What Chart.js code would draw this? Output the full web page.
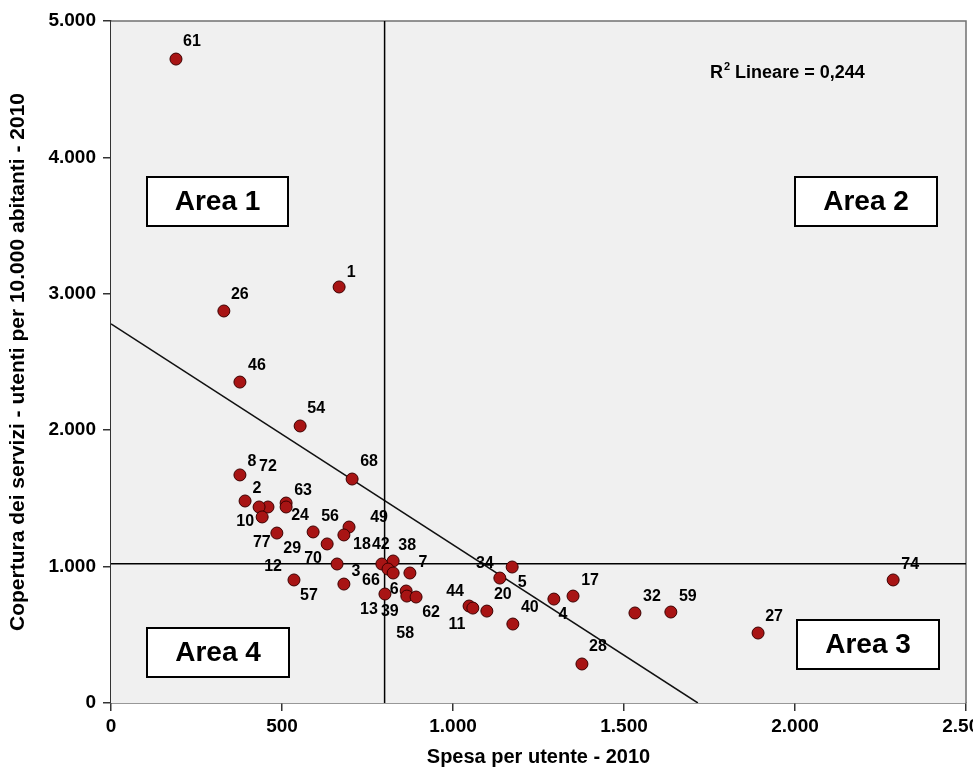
<!DOCTYPE html>
<html>
<head>
<meta charset="utf-8">
<script src="https://cdn.jsdelivr.net/npm/chart.js@4.4.1/dist/chart.umd.min.js"></script>
<style>
  html, body { margin: 0; padding: 0; background: #fff; }
  #wrap { width: 973px; height: 780px; }
</style>
</head>
<body>
<div id="wrap"><canvas id="chart" width="973" height="780"></canvas></div>
<script>
// Dati (numero di zona, spesa, copertura)
const ids = ['61','26','1','46','54','8','68','2','72','12','10','63','24','77','56','49','18','29','70','57','3','42','38','66','58','7','13','6','39','62','44','11','20','34','5','40','4','17','28','32','59','27','74'];
const spesa = [190, 330, 667, 377, 553, 377, 705, 392, 459, 433, 442, 512, 512, 485, 591, 696, 681, 632, 661, 535, 681, 792, 825, 810, 825, 874, 801, 863, 865, 892, 1047, 1058, 1099, 1137, 1173, 1175, 1295, 1351, 1377, 1532, 1637, 1892, 2287];
const copertura = [4721, 2874, 3050, 2353, 2031, 1672, 1642, 1481, 1437, 1437, 1364, 1466, 1437, 1246, 1254, 1290, 1232, 1166, 1019, 902, 872, 1019, 1041, 982, 953, 953, 799, 821, 784, 777, 711, 696, 674, 916, 997, 579, 762, 784, 286, 660, 667, 513, 902];

// spostamento delle etichette rispetto al punto (pixel)
const labelDx = [16, 16, 12, 17, 16, 12, 17, 12, 0, 14, -17, 17, 14, -15, 17, 30, 18, -35, -24, 15, 12, -1, 14, -17, 12, 13, -16, -12, -17, 15, -14, -16, 16, -15, 10, 17, 9, 17, 16, 17, 17, 16, 17];
const labelDy = [-17, -16, -14, -16, -17, -13, -17, -12, -40, 60, 5, -12, 9, 10, -15, -9, 10, 5, -5, 16, -12, -19, -15, 12, 61, -10, 16, -1, 16, 16, -14, 17, -16, -14, 16, -16, 16, -15, -17, -16, -15, -16, -15];

// linee di riferimento e retta di regressione
const refSpesa = 800;
const refCopertura = 1020;
const regSpesa = [0, 1716];
const regCopertura = [2780, 0];
const r2Text = 'R² Lineare = 0,244';

const xTicks = [0, 500, 1000, 1500, 2000, 2500];
const yTicks = [0, 1000, 2000, 3000, 4000, 5000];

const FONT = "'Liberation Sans', Arial, sans-serif";

// riquadri "Area" (posizione relativa all'area del grafico)
const areaBoxes = [
  { text: 'Area 1', left: 36, top: 156, w: 141, h: 49 },
  { text: 'Area 2', left: 684, top: 156, w: 142, h: 49 },
  { text: 'Area 3', left: 686, top: 599, w: 142, h: 49 },
  { text: 'Area 4', left: 36, top: 607, w: 142, h: 49 }
];

function fmt(v) {
  return String(v).replace(/\B(?=(\d{3})+(?!\d))/g, '.');
}

const points = spesa.map((x, i) => ({ x: x, y: copertura[i] }));

const plotPlugin = {
  id: 'plotDecor',
  beforeDatasetsDraw(chart) {
    const { ctx, chartArea: a } = chart;
    ctx.save();
    ctx.fillStyle = '#f0f0f0';
    ctx.fillRect(a.left, a.top, a.right - a.left, a.bottom - a.top);
    ctx.strokeStyle = '#707070';
    ctx.lineWidth = 1.5;
    ctx.beginPath();
    ctx.moveTo(a.left, a.top);
    ctx.lineTo(a.right, a.top);
    ctx.lineTo(a.right, a.bottom);
    ctx.stroke();
    ctx.restore();
  },
  afterDatasetsDraw(chart) {
    const { ctx, chartArea: a } = chart;
    const meta = chart.getDatasetMeta(0);
    ctx.save();
    // etichette dei punti
    ctx.font = 'bold 16px ' + FONT;
    ctx.fillStyle = '#000';
    ctx.textAlign = 'center';
    ctx.textBaseline = 'middle';
    meta.data.forEach((pt, i) => {
      ctx.fillText(ids[i], pt.x + labelDx[i], pt.y + labelDy[i]);
    });

    // riquadri delle aree
    areaBoxes.forEach(b => {
      const x = a.left + b.left, y = a.top + b.top;
      ctx.fillStyle = '#fff';
      ctx.fillRect(x, y, b.w, b.h);
      ctx.strokeStyle = '#000';
      ctx.lineWidth = 2;
      ctx.strokeRect(x, y, b.w, b.h);
      ctx.fillStyle = '#000';
      ctx.font = 'bold 28px ' + FONT;
      ctx.fillText(b.text, x + b.w / 2, y + b.h / 2 + 1);
    });

    // R quadro
    const rx = a.left + 599, ry = a.top + 52;
    ctx.textAlign = 'left';
    ctx.font = 'bold 18px ' + FONT;
    ctx.fillText('R', rx, ry);
    const wR = ctx.measureText('R').width;
    ctx.font = 'bold 11px ' + FONT;
    ctx.fillText('2', rx + wR + 1, ry - 6);
    const w2 = ctx.measureText('2').width;
    ctx.font = 'bold 18px ' + FONT;
    ctx.fillText(r2Text.slice(2), rx + wR + w2 + 1, ry);
    ctx.restore();
  }
};

new Chart(document.getElementById('chart'), {
  type: 'scatter',
  data: {
    datasets: [
      {
        data: points,
        backgroundColor: '#a81414',
        borderColor: '#3c0000',
        borderWidth: 1,
        pointRadius: 6,
        order: 0
      },
      {
        data: [{ x: refSpesa, y: yTicks[0] }, { x: refSpesa, y: yTicks[yTicks.length - 1] }],
        showLine: true, pointRadius: 0, borderColor: '#000', borderWidth: 1.5, order: 1
      },
      {
        data: [{ x: xTicks[0], y: refCopertura }, { x: xTicks[xTicks.length - 1], y: refCopertura }],
        showLine: true, pointRadius: 0, borderColor: '#000', borderWidth: 1.5, order: 1
      },
      {
        data: regSpesa.map((x, i) => ({ x: x, y: regCopertura[i] })),
        showLine: true, pointRadius: 0, borderColor: '#111', borderWidth: 1.5, order: 1
      }
    ]
  },
  options: {
    responsive: false,
    devicePixelRatio: 1,
    animation: false,
    events: [],
    layout: { padding: { top: 21, right: 7, left: 0, bottom: 0 } },
    plugins: {
      legend: { display: false },
      tooltip: { enabled: false }
    },
    scales: {
      x: {
        type: 'linear',
        min: 0, max: 2500,
        afterBuildTicks: s => { s.ticks = xTicks.map(v => ({ value: v })); },
        afterFit: s => { s.height = 77; s.paddingLeft = 0; s.paddingRight = 0; },
        ticks: {
          color: '#000',
          font: { family: FONT, size: 19, weight: 'bold' },
          padding: 4,
          maxRotation: 0,
          callback: v => fmt(v)
        },
        grid: { drawOnChartArea: false, drawTicks: true, tickLength: 8, color: '#333', lineWidth: 1.5 },
        border: { display: true, color: '#333', width: 1.5 },
        title: {
          display: true,
          text: 'Spesa per utente - 2010',
          color: '#000',
          font: { family: FONT, size: 20, weight: 'bold' },
          padding: { top: 0, bottom: 11 }
        }
      },
      y: {
        type: 'linear',
        min: 0, max: 5000,
        afterBuildTicks: s => { s.ticks = yTicks.map(v => ({ value: v })); },
        afterFit: s => { s.width = 111; s.paddingTop = 0; s.paddingBottom = 0; },
        ticks: {
          color: '#000',
          font: { family: FONT, size: 19, weight: 'bold' },
          padding: 7,
          callback: v => fmt(v)
        },
        grid: { drawOnChartArea: false, drawTicks: true, tickLength: 8, color: '#333', lineWidth: 1.5 },
        border: { display: true, color: '#333', width: 1.5 },
        title: {
          display: true,
          text: 'Copertura dei servizi - utenti per 10.000 abitanti - 2010',
          color: '#000',
          font: { family: FONT, size: 21, weight: 'bold' },
          padding: { top: 6, bottom: 0 }
        }
      }
    }
  },
  plugins: [plotPlugin]
});
</script>
</body>
</html>
